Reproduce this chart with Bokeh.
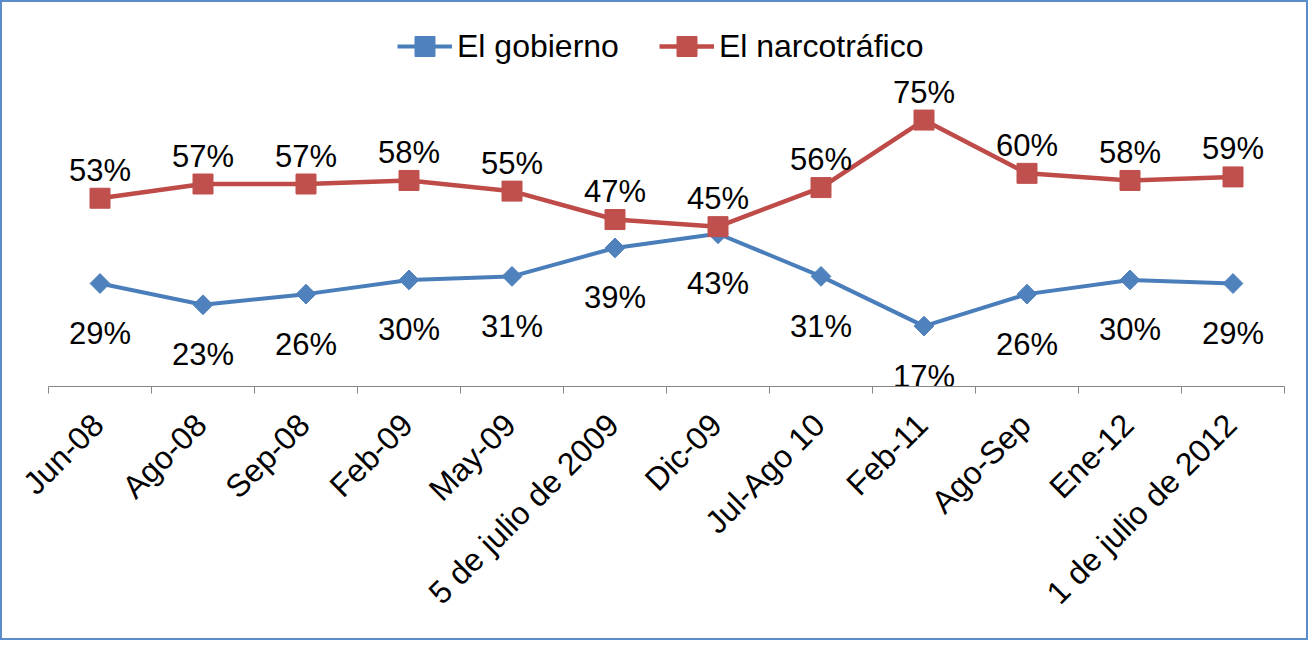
from bokeh.plotting import figure
from bokeh.models import (Range1d, FixedTicker, CustomJSTickFormatter, Legend, LegendItem,
                          ColumnDataSource)
from bokeh.core.properties import value
from bokeh.embed import file_html
from bokeh.resources import INLINE
import math

categories = ["Jun-08", "Ago-08", "Sep-08", "Feb-09", "May-09", "5 de julio de 2009",
              "Dic-09", "Jul-Ago 10", "Feb-11", "Ago-Sep", "Ene-12", "1 de julio de 2012"]
gobierno = [29, 23, 26, 30, 31, 39, 43, 31, 17, 26, 30, 29]
narco = [53, 57, 57, 58, 55, 47, 45, 56, 75, 60, 58, 59]

FONT = "Liberation Sans"
BLUE_LINE = "#4a7ebb"
BLUE_MARK = "#4f81bd"
RED_LINE = "#be4b48"
RED_MARK = "#c0504d"

xs = [i + 0.5 for i in range(len(categories))]

src_g = ColumnDataSource(dict(x=xs, y=gobierno, t=[f"{v}%" for v in gobierno]))
src_n = ColumnDataSource(dict(x=xs, y=narco, t=[f"{v}%" for v in narco]))

p = figure(frame_width=1236, frame_height=373,
           min_border_left=46, min_border_right=22, min_border_top=11, min_border_bottom=252,
           x_range=Range1d(0, len(categories)), y_range=Range1d(0, 105),
           output_backend="svg", toolbar_location=None, y_axis_location=None,
           background_fill_color="white", border_fill_color="white")
p.outline_line_color = None
p.grid.visible = False
p.styles = {"border": "2px solid #5b8bc9"}

# x axis: minor ticks at category boundaries, labels at category centres
label_ticks = [i + 0.5 - 0.02 for i in range(len(categories))]
boundaries = list(range(len(categories) + 1))
ax = p.xaxis[0]
ax.ticker = FixedTicker(ticks=label_ticks, minor_ticks=boundaries)
ax.formatter = CustomJSTickFormatter(args=dict(labels=categories),
                                     code="return labels[Math.floor(tick)];")
ax.major_tick_out = 0
ax.major_tick_in = 0
ax.minor_tick_out = 7
ax.minor_tick_in = 0
ax.minor_tick_line_color = "#868686"
ax.axis_line_color = "#868686"
ax.axis_line_width = 1
ax.major_label_orientation = math.pi / 4
ax.major_label_standoff = 26
ax.major_label_text_font = FONT
ax.major_label_text_font_size = "32px"
ax.major_label_text_color = "black"

lg = p.line("x", "y", source=src_g, line_color=BLUE_LINE, line_width=4)
mg = p.scatter("x", "y", source=src_g, marker="square", angle=math.pi / 4, size=14,
               fill_color=BLUE_MARK, line_color=BLUE_MARK)
ln = p.line("x", "y", source=src_n, line_color=RED_LINE, line_width=4.5)
mn = p.scatter("x", "y", source=src_n, marker="square", size=20,
               fill_color=RED_MARK, line_color=RED_MARK)

p.text("x", "y", text="t", source=src_n, text_align="center", text_baseline="alphabetic",
       y_offset=-28, text_font=value(FONT), text_font_size="31px", text_color="black")
p.text("x", "y", text="t", source=src_g, text_align="center", text_baseline="alphabetic",
       y_offset=50, text_font=value(FONT), text_font_size="31px", text_color="black")

legend = Legend(items=[LegendItem(label="El gobierno", renderers=[lg, mg]),
                       LegendItem(label="El narcotráfico", renderers=[ln, mn])],
                orientation="horizontal", location=(349, 315),
                glyph_width=55, glyph_height=50, label_standoff=5, spacing=40,
                padding=0, margin=0, border_line_alpha=0, background_fill_alpha=0,
                label_text_font=FONT, label_text_font_size="32px", label_text_color="black")
p.add_layout(legend, "center")

open("out.html", "w").write(file_html(p, INLINE))
